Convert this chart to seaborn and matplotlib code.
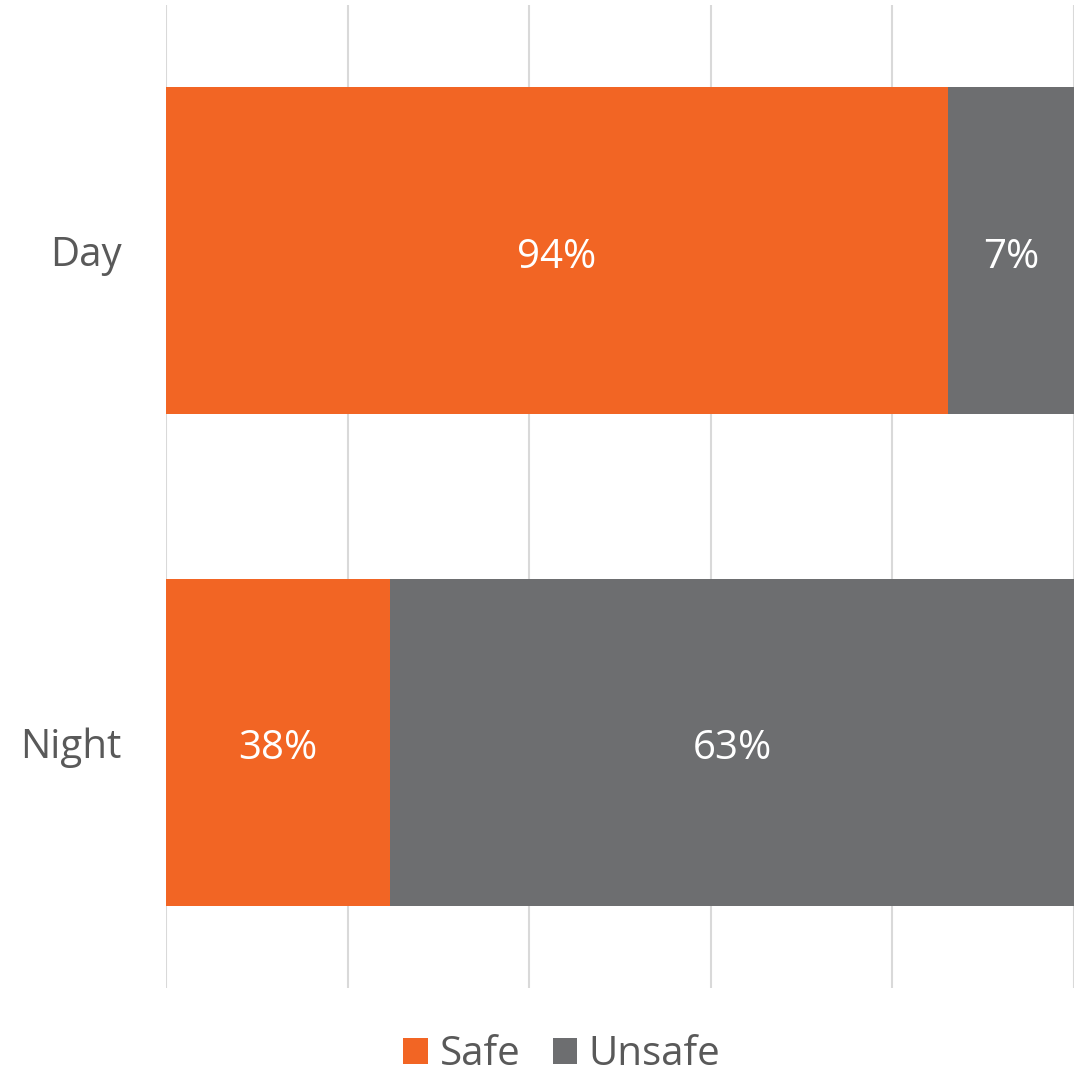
import matplotlib
matplotlib.use("Agg")
import matplotlib.pyplot as plt
from matplotlib.patches import Patch
import seaborn as sns
import pandas as pd

categories = ["Day", "Night"]
safe_values = [86.1, 24.7]      # bar lengths as drawn (percent of axis)
unsafe_values = [13.9, 75.3]
safe_labels = ["94%", "38%"]
unsafe_labels = ["7%", "63%"]
series_names = ["Safe", "Unsafe"]

ORANGE = "#F26524"
GRAY = "#6D6E70"
TEXT = "#595959"

sns.set_theme(style="white")
plt.rcParams["font.family"] = ["Open Sans", "DejaVu Sans"]

df = pd.DataFrame({
    "category": categories,
    "safe": safe_values,
    "unsafe": unsafe_values,
})
df["total"] = df["safe"] + df["unsafe"]

fig = plt.figure(figsize=(10.81, 10.74), dpi=100)
ax = fig.add_axes([166 / 1081, 1 - 988 / 1074, 908 / 1081, 983 / 1074])

bar_w = 0.665
sns.barplot(data=df, x="total", y="category", color=GRAY, width=bar_w,
            orient="h", ax=ax, saturation=1, linewidth=0, zorder=2)
sns.barplot(data=df, x="safe", y="category", color=ORANGE, width=bar_w,
            orient="h", ax=ax, saturation=1, linewidth=0, zorder=3)

ax.set_xlim(0, 100)
ax.set_ylim(1.5, -0.5)
ax.set_xticks([0, 20, 40, 60, 80, 100])
ax.set_xticklabels([])
ax.tick_params(axis="x", length=0)
ax.tick_params(axis="y", length=0, pad=32, labelsize=29, labelcolor=TEXT)
ax.set_xlabel("")
ax.set_ylabel("")
ax.xaxis.grid(True, color="#D9D9D9", linewidth=1.5, zorder=0)
ax.set_axisbelow(True)
for s in ax.spines.values():
    s.set_visible(False)

for i in range(len(categories)):
    s = df["safe"][i]
    u = df["unsafe"][i]
    ax.text(s / 2, i + 0.014, safe_labels[i], ha="center", va="center",
            color="white", fontsize=29, zorder=5)
    ax.text(s + u / 2, i + 0.014, unsafe_labels[i], ha="center", va="center",
            color="white", fontsize=29, zorder=5)

handles = [Patch(facecolor=ORANGE, edgecolor="none"),
           Patch(facecolor=GRAY, edgecolor="none")]
leg = fig.legend(handles, series_names, loc="center",
                 bbox_to_anchor=(562 / 1081, 1 - 1055 / 1074), ncol=2,
                 frameon=False, fontsize=29, handlelength=0.6, handleheight=0.6,
                 handletextpad=0.3, columnspacing=0.8, borderaxespad=0)
for t in leg.get_texts():
    t.set_color(TEXT)

fig.savefig("out.png", dpi=100)
